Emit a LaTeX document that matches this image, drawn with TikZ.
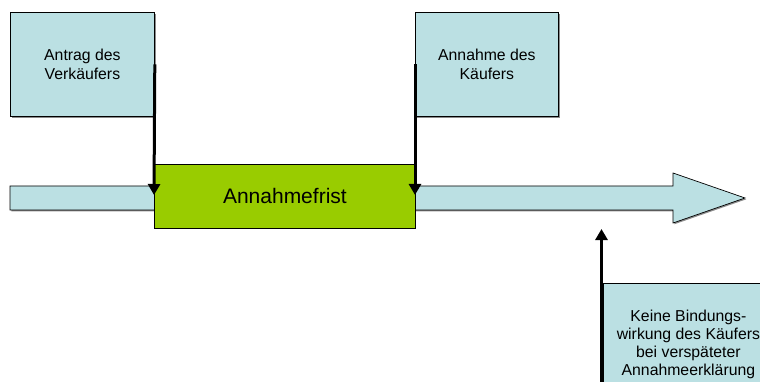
\documentclass[tikz,border=0pt]{standalone}
\usepackage{fontspec}
\setmainfont{Liberation Sans}
\usetikzlibrary{arrows.meta,shadows}
\definecolor{lb}{HTML}{BBE0E3}
\definecolor{gr}{HTML}{99CC00}
\begin{document}
\begin{tikzpicture}[x=1pt,y=-1pt,
  shad/.style={drop shadow={shadow xshift=1.3pt,shadow yshift=-1.3pt,fill=black!45,opacity=1}},
  box/.style={draw=black,line width=0.8pt,fill=lb,anchor=north west,inner sep=0pt,
    align=center,font=\fontsize{15.8}{18.3}\selectfont,shad},
  frbox/.style={draw=black,line width=0.8pt,fill=gr,anchor=north west,inner sep=0pt,
    font=\fontsize{21}{24}\selectfont},
  arr/.style={line width=3pt,-{Triangle[length=11pt,width=12pt]}}]
\useasboundingbox (0,0) rectangle (760,382);
\clip (0,0) rectangle (760,382);
% time line arrow
\fill[black!45] (11.3,187.3) -- (674.3,187.3) -- (674.3,174.3) -- (746.3,199.3) -- (674.3,224.3) -- (674.3,211.3) -- (11.3,211.3) -- cycle;
\draw[fill=lb,draw=black,line width=0.7pt] (10,186) -- (673,186) -- (673,173) -- (745,198) -- (673,223) -- (673,210) -- (10,210) -- cycle;
\node[box,minimum width=144pt,minimum height=104pt] (antrag) at (10,12) {Antrag des\\Verkäufers};
\node[box,minimum width=143pt,minimum height=104pt] (annahme) at (415,12) {Annahme des\\Käufers};
\node[frbox,minimum width=261pt,minimum height=64pt] (frist) at (154,164) {Annahmefrist};
\node[box,minimum width=170pt,minimum height=122pt] (keine) at (603,283) {Keine Bindungs-\\wirkung des Käufers\\bei verspäteter\\Annahmeerklärung};
\coordinate (tipL) at (154,195);
\coordinate (tipR) at (415,195);
\coordinate (upstart) at (601.5,390);
\coordinate (uptip) at (601.5,229);
\draw[arr] (antrag.east) -- (tipL);
\draw[arr] (annahme.west) -- (tipR);
\draw[arr] (upstart) -- (uptip);
\end{tikzpicture}
\end{document}
